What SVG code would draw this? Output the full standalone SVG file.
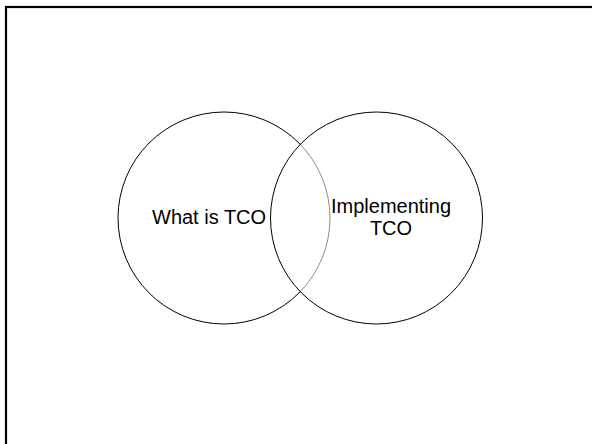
<svg xmlns="http://www.w3.org/2000/svg" width="592" height="444" viewBox="0 0 592 444">
<style>
.frame{fill:none;stroke:#000;stroke-width:2.2}
.circ{stroke:#000;stroke-width:1}
.lbl{font-family:"Liberation Sans",Arial,sans-serif;font-size:20px;fill:#000}
</style>
<rect x="0" y="0" width="592" height="444" fill="#fff"/>
<rect class="frame" x="6" y="7" width="600" height="450"/>
<g id="node-what-is-tco">
<circle class="circ" cx="224" cy="218" r="106" fill="none"/>
<text class="lbl" x="152" y="224">What is TCO</text>
</g>
<g id="node-implementing-tco">
<circle class="circ" cx="376.5" cy="218" r="106" fill="#fff" fill-opacity="0.55"/>
<text class="lbl" text-anchor="middle"><tspan x="391" y="213">Implementing</tspan><tspan x="391" y="235">TCO</tspan></text>
</g>
<g id="connectors"></g>
</svg>
